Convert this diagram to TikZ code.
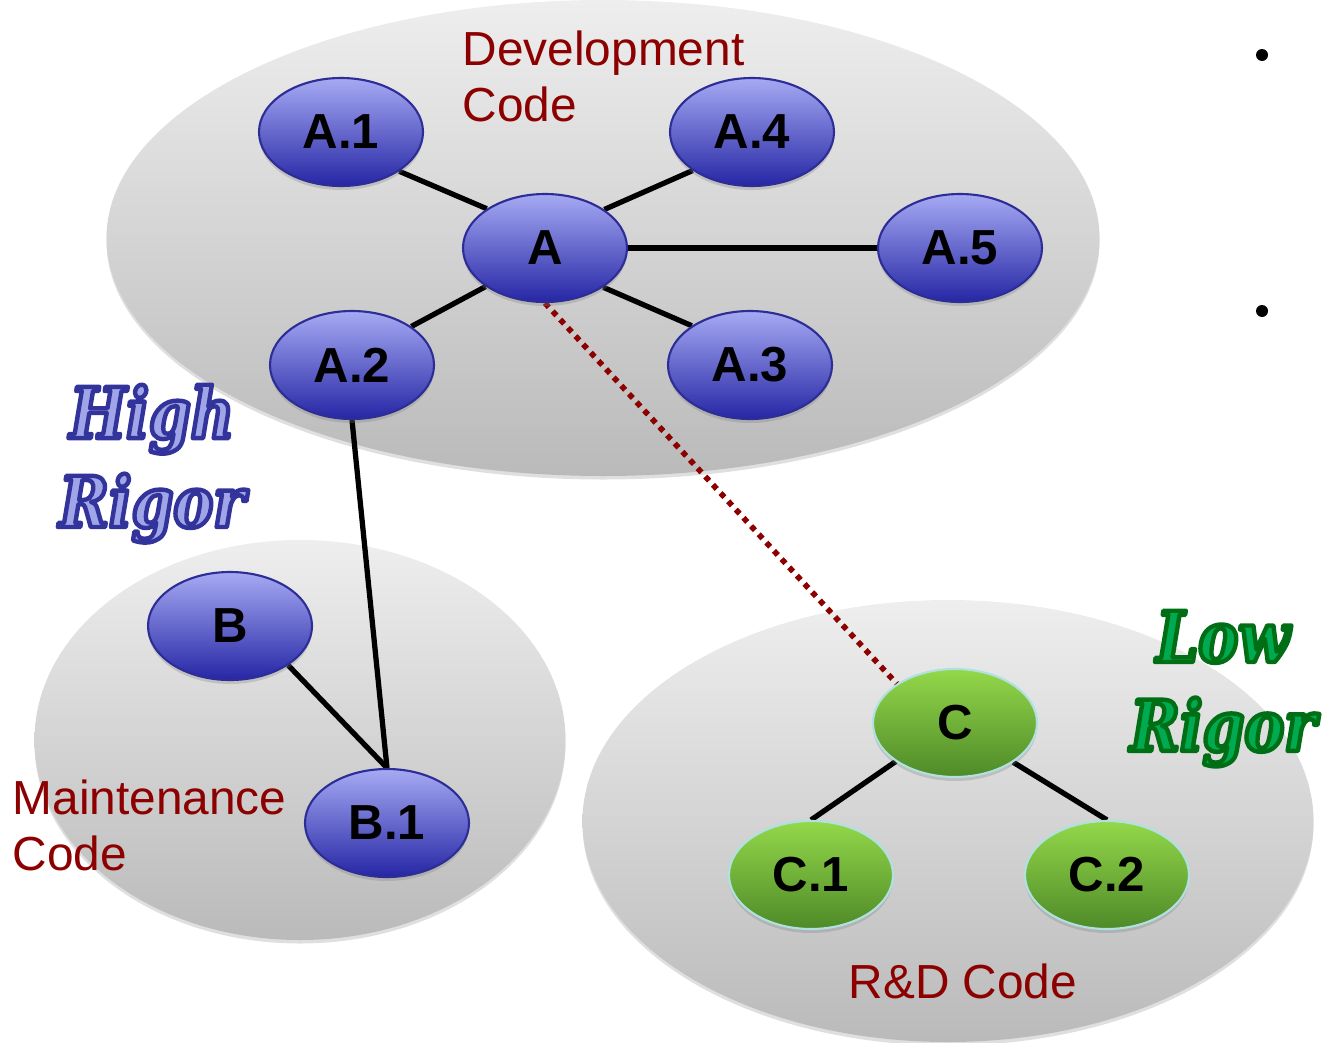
\documentclass[tikz,border=0pt]{standalone}
\usepackage{fontspec}
\setmainfont{Liberation Sans}
\newfontfamily\rigorfont{DejaVu Serif}[FakeStretch=0.85]
\usetikzlibrary{shapes.geometric,shadows,calc}

\definecolor{regiontop}{RGB}{238,238,238}
\definecolor{regionbot}{RGB}{186,186,186}
\definecolor{bluetop}{RGB}{166,170,243}
\definecolor{bluebot}{RGB}{38,38,165}
\definecolor{blueedge}{RGB}{45,45,150}
\definecolor{greentop}{RGB}{148,216,74}
\definecolor{greenbot}{RGB}{78,138,40}
\definecolor{greenedge}{RGB}{175,225,225}
\definecolor{labelred}{RGB}{140,0,0}
\definecolor{tracered}{RGB}{140,0,0}
\definecolor{hifill}{RGB}{160,165,232}
\definecolor{lofill}{RGB}{0,170,80}

% text drawn filled and stroked (PDF text render mode 2); #1 = stroke colour as "r g b"
\newcommand\strokedtext[2]{\special{pdf:literal q 2 Tr 1.25 w 1 j #1 RG}#2\special{pdf:literal Q}}

\pgfdeclarelayer{regions}
\pgfdeclarelayer{links}
\pgfsetlayers{regions,links,main}

\begin{document}
\begin{tikzpicture}[
  region/.style={ellipse, inner sep=0, draw=none,
    top color=regiontop, bottom color=regionbot,
    drop shadow={shadow xshift=0pt, shadow yshift=-0.035cm, opacity=0.25}},
  unit/.style={ellipse, minimum width=1.64cm, minimum height=1.08cm, inner sep=0,
    line width=0.6pt, font=\fontsize{14}{16}\selectfont\bfseries,
    drop shadow={shadow xshift=0pt, shadow yshift=-0.04cm, opacity=0.3}},
  hiunit/.style={unit, top color=bluetop, bottom color=bluebot, draw=blueedge},
  lounit/.style={unit, top color=greentop, bottom color=greenbot, draw=greenedge},
  link/.style={line width=1.5pt, black},
  trace/.style={draw=tracered, line width=1.6pt, dash pattern=on 1.6pt off 1.6pt},
  codelabel/.style={text=labelred, font=\fontsize{13.6}{16}\selectfont, inner sep=0, align=left},
  rigor/.style={font=\rigorfont\bfseries\itshape\fontsize{20}{25.3}\selectfont, align=center, inner sep=0},
  bullet/.style={circle, fill=black, inner sep=0, minimum size=0.12cm}
]
\useasboundingbox (0,0) rectangle (13.22,-10.42);

% shaded code regions
\begin{pgfonlayer}{regions}
  \node[region, minimum width=9.93cm, minimum height=4.76cm] (dev) at (6.03,-2.38) {};
  \node[region, minimum width=5.31cm, minimum height=4.00cm] (maint) at (3.00,-7.40) {};
  \node[region, minimum width=7.31cm, minimum height=4.42cm] (rnd) at (9.48,-8.21) {};
\end{pgfonlayer}

% high-rigor units
\node[hiunit] (A)  at (5.45,-2.48) {A};
\node[hiunit] (A1) at (3.41,-1.32) {A.1};
\node[hiunit] (A4) at (7.52,-1.32) {A.4};
\node[hiunit] (A5) at (9.60,-2.48) {A.5};
\node[hiunit] (A2) at (3.52,-3.65) {A.2};
\node[hiunit] (A3) at (7.50,-3.65) {A.3};
\node[hiunit] (B)  at (2.30,-6.26) {B};
\node[hiunit] (B1) at (3.87,-8.23) {B.1};

% low-rigor units
\node[lounit] (C)  at (9.55,-7.23) {C};
\node[lounit] (C1) at (8.11,-8.75) {C.1};
\node[lounit] (C2) at (11.07,-8.75) {C.2};

% dependencies
\begin{pgfonlayer}{links}
  \draw[link] (A.146.63) -- (A1.326.63);
  \draw[link] (A.33.37)  -- (A4.213.37);
  \draw[link] (A.east)   -- (A5.west);
  \draw[link] (A.213.37) -- (A2.33.37);
  \draw[link] (A.326.63) -- (A3.146.63);
  \draw[link] (A2.south) -- (B1.north);
  \draw[link] (B.326.63) -- (B1.north);
  \draw[link] (C.213.37) -- (C1.north);
  \draw[link] (C.326.63) -- (C2.north);
  \draw[trace] (A.south) -- (C.146.63);
\end{pgfonlayer}

% region captions
\node[codelabel, anchor=north west] (devlabel) at (4.62,-0.30) {Development\\Code};
\node[codelabel, anchor=north west] (maintlabel) at (0.12,-7.79) {Maintenance\\Code};
\node[codelabel, anchor=base west] (rndlabel) at (8.48,-9.98) {R\&D Code};

% outlined rigor captions
\node[rigor, text=hifill, anchor=north] (hirigor) at (1.52,-3.84)
  {\strokedtext{0.196 0.204 0.608}{High\\Rigor}};
\node[rigor, text=lofill, anchor=north] (lorigor) at (12.23,-6.10)
  {\strokedtext{0 0.431 0.078}{Low\\Rigor}};

% list bullets
\node[bullet] (bulletone) at (12.62,-0.55) {};
\node[bullet] (bullettwo) at (12.62,-3.11) {};
\end{tikzpicture}
\end{document}
